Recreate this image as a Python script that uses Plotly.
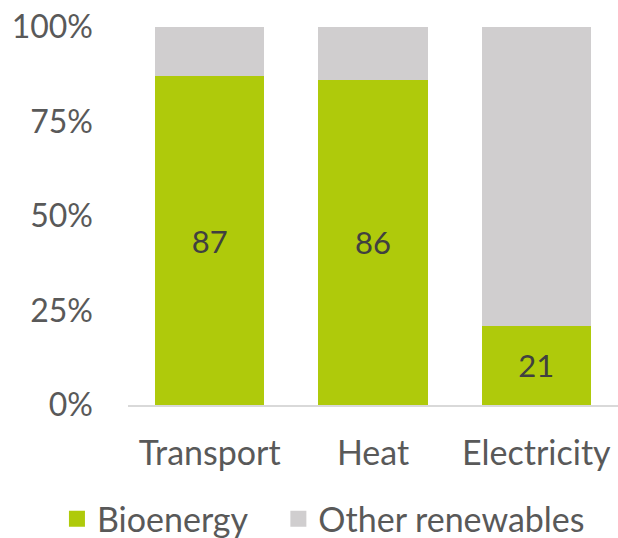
import plotly.graph_objects as go

categories = ["Transport", "Heat", "Electricity"]
bioenergy = [87, 86, 21]
other_renewables = [13, 14, 79]
y_ticks = [0, 25, 50, 75, 100]
series_names = ["Bioenergy", "Other renewables"]
series_colors = ["#AFCA0B", "#D0CECF"]

FONT = "Lato, Open Sans, sans-serif"
NBSP = "\u00a0"

fig = go.Figure()
fig.add_trace(go.Bar(
    x=categories, y=bioenergy, name=series_names[0], showlegend=False,
    marker=dict(color=series_colors[0], line=dict(width=0)),
    text=[str(v) for v in bioenergy], textposition="inside",
    insidetextanchor="middle",
    textfont=dict(size=31, color="#404040", family=FONT),
))
fig.add_trace(go.Bar(
    x=categories, y=other_renewables, name=series_names[1], showlegend=False,
    marker=dict(color=series_colors[1], line=dict(width=0)),
))
# legend entries with larger square swatches
legend_labels = [series_names[0] + NBSP * 3, series_names[1]]
for label, color in zip(legend_labels, series_colors):
    fig.add_trace(go.Scatter(
        x=[None], y=[None], mode="markers", name=label,
        marker=dict(symbol="square", size=18, color=color),
    ))

fig.update_layout(
    barmode="stack",
    bargap=0.33,
    width=618, height=538,
    margin=dict(l=128, r=0, t=27, b=133, autoexpand=False),
    plot_bgcolor="white", paper_bgcolor="white",
    font=dict(family=FONT, size=32, color="#595959"),
    showlegend=True,
    legend=dict(
        orientation="h",
        x=-0.145, y=-0.302, xanchor="left", yanchor="middle",
        font=dict(size=34, color="#595959"),
        traceorder="normal", itemwidth=30,
        itemsizing="trace", bgcolor="rgba(0,0,0,0)",
    ),
    uniformtext=dict(minsize=10, mode="show"),
)
fig.update_yaxes(
    range=[0, 100], tickvals=y_ticks, ticktext=[f"{v}%" for v in y_ticks],
    showgrid=False, zeroline=False, showline=False, ticks="",
    ticklabelstandoff=34, tickfont=dict(size=32),
)
fig.update_xaxes(
    showline=True, linecolor="#D9D9D9", linewidth=2,
    ticks="", showgrid=False, ticklabelstandoff=17,
    tickfont=dict(size=34),
)

fig.write_html("out.html")
